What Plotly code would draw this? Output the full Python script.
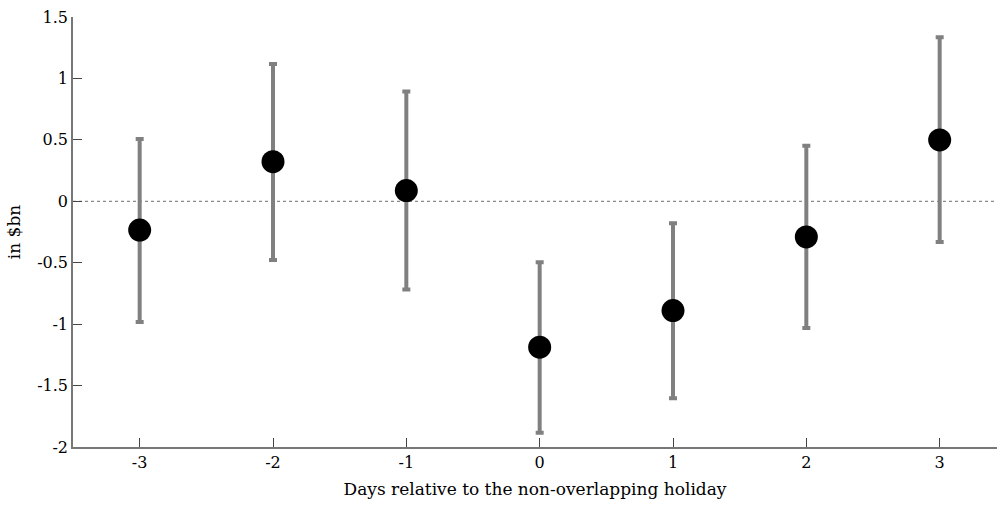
import plotly.graph_objects as go

days = [-3, -2, -1, 0, 1, 2, 3]
estimate = [-0.234, 0.322, 0.087, -1.188, -0.889, -0.290, 0.499]
upper = [0.507, 1.117, 0.893, -0.496, -0.179, 0.452, 1.336]
lower = [-0.982, -0.478, -0.718, -1.885, -1.603, -1.032, -0.331]
y_ticks = [-2, -1.5, -1, -0.5, 0, 0.5, 1, 1.5]
y_tick_labels = ["-2", "-1.5", "-1", "-0.5", "0", "0.5", "1", "1.5"]
x_tick_labels = ["-3", "-2", "-1", "0", "1", "2", "3"]

err_plus = [u - e for u, e in zip(upper, estimate)]
err_minus = [e - l for e, l in zip(estimate, lower)]

font_family = "DejaVu Serif, Liberation Serif, serif"

fig = go.Figure()
fig.add_trace(go.Scatter(
    x=days, y=estimate, mode="markers",
    marker=dict(color="black", size=23),
    error_y=dict(type="data", symmetric=False, array=err_plus, arrayminus=err_minus,
                 color="#808080", thickness=4, width=4),
    showlegend=False,
))

fig.add_shape(type="line", xref="paper", yref="y", x0=0, x1=1, y0=0, y1=0,
              line=dict(color="#8a8a8a", width=1.2, dash="dot"), layer="below")

fig.update_layout(
    width=997, height=505,
    margin=dict(l=73, r=0, t=17, b=58),
    plot_bgcolor="white", paper_bgcolor="white",
    font=dict(family=font_family, size=16, color="black"),
    xaxis=dict(
        range=[-3.5, 3.43], tickmode="array", tickvals=days, ticktext=x_tick_labels,
        ticks="inside", ticklen=9, tickcolor="#444", tickwidth=1,
        showline=True, linecolor="#777", linewidth=1.5, showgrid=False, zeroline=False,
        tickfont=dict(family=font_family, size=16),
        title=dict(text="Days relative to the non-overlapping holiday", standoff=12,
                   font=dict(family=font_family, size=17)),
    ),
    yaxis=dict(
        range=[-2, 1.5], tickmode="array", tickvals=y_ticks, ticktext=y_tick_labels,
        ticks="inside", ticklen=9, tickcolor="#444", tickwidth=1,
        showline=True, linecolor="#777", linewidth=1.5, showgrid=False, zeroline=False,
        tickfont=dict(family=font_family, size=16),
        title=dict(text="in $bn", standoff=12, font=dict(family=font_family, size=17)),
    ),
)

fig.write_html("out.html")
